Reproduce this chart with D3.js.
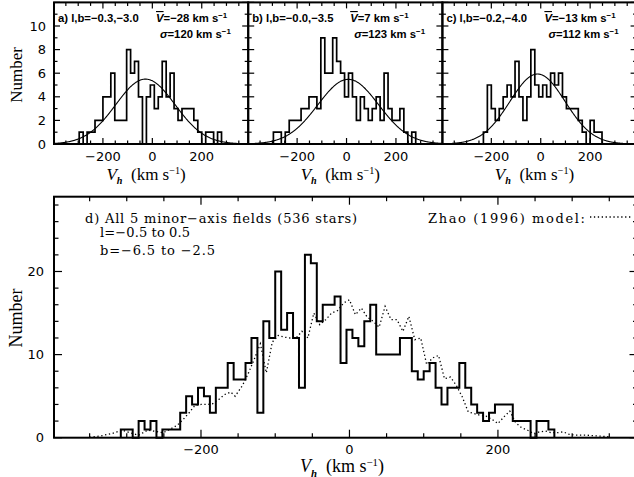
<!DOCTYPE html>
<html>
<head>
<meta charset="utf-8">
<script src="https://cdn.jsdelivr.net/npm/d3@7"></script>
<style>
body { margin: 0; background: #fff; }
svg text { fill: #000; }
</style>
</head>
<body>
<div id="chart"></div>
<script>
// bin widths in km/s
var topBin = 16;
var allBin = 8;

// the three single fields
var fieldNames = ["a) l,b=\u22120.3,\u22123.0", "b) l,b=\u22120.0,\u22123.5", "c) l,b=\u22120.2,\u22124.0"];
var fieldMean = [-28, 7, -13];
var fieldSigma = [120, 123, 112];
var fieldPeak = [5.5, 5.48, 5.93];

// centre of the first bin, then the counts
var fieldStart = [-288, -288, -224];
var countsA = [1, 0, 1, 1, 2, 2, 4, 4, 6, 2, 2, 2, 8, 6, 7, 4, 0, 4, 5, 3, 4, 7, 4, 6, 3, 2, 3, 3, 3, 2, 1, 0, 1, 1, 0, 1];
var countsB = [1, 1, 0, 1, 2, 2, 2, 3, 3, 4, 4, 3, 9, 6, 6, 9, 7, 6, 4, 6, 4, 2, 4, 3, 2, 3, 4, 2, 6, 3, 2, 2, 3, 1, 0, 1];
var countsC = [1, 5, 3, 2, 3, 4, 5, 4, 7, 4, 2, 4, 8, 5, 4, 5, 4, 6, 5, 6, 4, 3, 3, 3, 2, 1, 0, 2, 1, 1];

// all 5 minor-axis fields
var allStart = -304;
var countsAll = [1, 1, 0, 2, 1, 2, 0, 1, 1, 1, 3, 5, 4, 6, 5, 3, 6, 6, 9, 7, 7, 9, 12, 3,
    14, 12, 20, 13, 15, 12, 6, 22, 21, 14, 16, 16, 17, 9, 13, 12, 11, 14, 16, 10, 10, 10, 10,
    12, 12, 8, 7, 8, 9, 6, 4, 6, 6, 9, 6, 4, 3, 2, 3, 4, 4, 4, 2, 2, 2, 0, 2, 2, 1];

// Zhao (1996) model
var zhaoV = [-350, -336, -320, -306, -296, -284, -272, -264, -251, -240, -232, -224, -216, -208,
    -200, -192, -184, -176, -168, -160, -154, -144, -136, -128, -120, -112, -104, -96, -88, -80,
    -72, -64, -56, -48, -40, -32, -24, -16, -8, 0, 8, 16, 24, 32, 40, 48, 56, 64, 72, 80, 88, 96,
    104, 112, 120, 128, 136, 144, 152, 160, 168, 176, 184, 192, 200, 208, 216, 224, 232, 240, 248,
    256, 264, 272, 280, 288, 296, 304, 320, 336, 352];
var zhaoN = [0.05, 0.2, 0.5, 0.9, 0.6, 0.3, 0.9, 0.8, 0.6, 1.1, 1.5, 2.2, 3.0, 3.9,
    4.0, 4.0, 4.1, 4.6, 5.2, 5.5, 5.0, 6.3, 7.8, 9.5, 11.3, 7.8, 11.5, 12.3, 12.1, 12.0,
    12.0, 12.8, 12.0, 15.0, 13.6, 14.2, 15.0, 15.3, 16.2, 16.6, 14.8, 15.6, 14.5, 14.0, 13.3, 15.8, 14.2, 14.2, 12.8, 14.6, 11.8, 12.0,
    8.8, 9.6, 9.9, 7.1, 7.3, 6.3, 4.9, 3.1, 2.9, 2.7, 2.6, 2.2, 1.7, 2.5, 3.2, 1.8, 1.2, 0.9, 0.5,
    0.7, 0.8, 0.6, 0.6, 0.7, 0.4, 0.3, 0.3, 0.2, 0.1];

// ticks
var xMajor = [-200, 0, 200];
var xMinor = d3.range(-350, 351, 50);
var topYMinor = d3.range(0, 13, 1);
var topYLabels = [0, 2, 4, 6, 8, 10];
var allYMinor = d3.range(0, 29, 2);
var allYLabels = [0, 10, 20];

var svgWidth = 634;
var svgHeight = 477;

var svg = d3.select("#chart")
    .append("svg")
    .attr("width", svgWidth)
    .attr("height", svgHeight)
    .style("font-family", "'Liberation Serif', serif");

var tickFont = "'DejaVu Sans', sans-serif";
var noteFont = "'Liberation Sans', sans-serif";
var serifFont = "'DejaVu Serif', serif";

// draw frame and inward ticks of one panel
function drawFrame(x, y, yMinor, yMajor, tickLen) {
    var x0 = x.range()[0], x1 = x.range()[1];
    var y0 = y.range()[0], y1 = y.range()[1];
    var g = svg.append("g")
        .attr("stroke", "#000")
        .attr("fill", "none");

    xMinor.forEach(function (v) {
        var len = xMajor.indexOf(v) >= 0 ? tickLen[0] : tickLen[1];
        g.append("line").attr("x1", x(v)).attr("x2", x(v))
            .attr("y1", y0).attr("y2", y0 - len).attr("stroke-width", 1.2);
        g.append("line").attr("x1", x(v)).attr("x2", x(v))
            .attr("y1", y1).attr("y2", y1 + len).attr("stroke-width", 1.2);
    });
    yMinor.forEach(function (v) {
        var len = yMajor(v) ? tickLen[0] : tickLen[1];
        g.append("line").attr("x1", x0).attr("x2", x0 + len)
            .attr("y1", y(v)).attr("y2", y(v)).attr("stroke-width", 1.2);
        g.append("line").attr("x1", x1).attr("x2", x1 - len)
            .attr("y1", y(v)).attr("y2", y(v)).attr("stroke-width", 1.2);
    });
    g.append("rect")
        .attr("x", x0).attr("y", y1)
        .attr("width", x1 - x0).attr("height", y0 - y1)
        .attr("stroke-width", 2);
}

function histPath(x, y, start, counts, bw) {
    var pts = [[start - bw / 2, 0]];
    counts.forEach(function (c, i) {
        var left = start + i * bw - bw / 2;
        pts.push([left, c], [left + bw, c]);
    });
    pts.push([start + counts.length * bw - bw / 2, 0]);
    return d3.line().x(d => x(d[0])).y(d => y(d[1]))(pts);
}

function xTitle(cx, cy, size) {
    var t = svg.append("text")
        .attr("x", cx).attr("y", cy)
        .attr("text-anchor", "middle")
        .style("font-size", size + "px");
    t.append("tspan").style("font-style", "italic").text("V");
    t.append("tspan").attr("dy", size * 0.25).style("font-size", (size * 0.6) + "px")
        .style("font-style", "italic").style("font-weight", "bold").text("h");
    t.append("tspan").attr("dy", -size * 0.25).text("\u2002(km s");
    t.append("tspan").attr("dy", -size * 0.35).style("font-size", (size * 0.6) + "px").text("\u22121");
    t.append("tspan").attr("dy", size * 0.35).text(")");
}

function unitText(t, size) {
    t.append("tspan").text(" km s");
    t.append("tspan").attr("dy", -size * 0.35).style("font-size", (size * 0.7) + "px").text("\u22121");
}

// ---------- top row ----------
var topLeft = 54, panelW = 194.2;
var topY = d3.scaleLinear().domain([0, 12]).range([144, 2.4]);
var fieldCounts = [countsA, countsB, countsC];

fieldCounts.forEach(function (counts, i) {
    var left = topLeft + i * panelW;
    var x = d3.scaleLinear().domain([-398, 388]).range([left, left + panelW]);

    svg.append("path")
        .attr("d", histPath(x, topY, fieldStart[i], counts, topBin))
        .attr("fill", "none")
        .attr("stroke", "#000")
        .attr("stroke-width", 1.7);

    var gauss = d3.range(-398, 389, 2).map(v =>
        [v, fieldPeak[i] * Math.exp(-0.5 * Math.pow((v - fieldMean[i]) / fieldSigma[i], 2))]);
    svg.append("path")
        .attr("d", d3.line().x(d => x(d[0])).y(d => topY(d[1]))(gauss))
        .attr("fill", "none")
        .attr("stroke", "#000")
        .attr("stroke-width", 1.1);

    drawFrame(x, topY, topYMinor, v => v % 2 === 0, [6, 3.5]);

    xMajor.forEach(function (v) {
        svg.append("text")
            .attr("x", x(v)).attr("y", 161)
            .attr("text-anchor", "middle")
            .style("font-family", tickFont)
            .style("font-size", "13px")
            .text(v < 0 ? "\u2212" + Math.abs(v) : v);
    });
    xTitle(left + panelW / 2 - 5, 180, 17);

    var note = svg.append("g")
        .style("font-family", noteFont)
        .style("font-weight", "bold")
        .style("font-size", "11.3px");
    note.append("text").attr("x", left + 4).attr("y", 22).text(fieldNames[i]);
    var vt = note.append("text").attr("x", left + 102).attr("y", 22);
    vt.append("tspan").style("font-style", "italic").style("text-decoration", "overline").text("V");
    vt.append("tspan").text("=" + (fieldMean[i] < 0 ? "\u2212" + Math.abs(fieldMean[i]) : fieldMean[i]));
    unitText(vt, 11.3);
    var st = note.append("text").attr("x", left + 106).attr("y", 38);
    st.append("tspan").style("font-style", "italic").text("\u03c3");
    st.append("tspan").text("=" + fieldSigma[i]);
    unitText(st, 11.3);
});

topYLabels.forEach(function (v) {
    svg.append("text")
        .attr("x", 46).attr("y", topY(v) + 4.5)
        .attr("text-anchor", "end")
        .style("font-family", tickFont)
        .style("font-size", "13px")
        .text(v);
});
svg.append("text")
    .attr("transform", "translate(22,75) rotate(-90)")
    .attr("text-anchor", "middle")
    .style("font-size", "17px")
    .text("Number");

// ---------- bottom panel ----------
var allX = d3.scaleLinear().domain([-398, 388]).range([54, 637.5]);
var allY = d3.scaleLinear().domain([0, 29]).range([437.7, 196.7]);

svg.append("defs").append("clipPath").attr("id", "clipAll")
    .append("rect").attr("x", 54).attr("y", 196.7).attr("width", 583.5).attr("height", 241);

svg.append("path")
    .attr("d", d3.line().x((d, i) => allX(zhaoV[i])).y(d => allY(d))(zhaoN))
    .attr("clip-path", "url(#clipAll)")
    .attr("fill", "none")
    .attr("stroke", "#000")
    .attr("stroke-width", 1.3)
    .attr("stroke-dasharray", "1.3,2.6");

svg.append("path")
    .attr("d", histPath(allX, allY, allStart, countsAll, allBin))
    .attr("fill", "none")
    .attr("stroke", "#000")
    .attr("stroke-width", 2);

drawFrame(allX, allY, allYMinor, v => v % 10 === 0, [8, 4.5]);

xMajor.forEach(function (v) {
    svg.append("text")
        .attr("x", allX(v)).attr("y", 454)
        .attr("text-anchor", "middle")
        .style("font-family", tickFont)
        .style("font-size", "13px")
        .text(v < 0 ? "\u2212" + Math.abs(v) : v);
});
allYLabels.forEach(function (v) {
    svg.append("text")
        .attr("x", 44).attr("y", allY(v) + 4.5)
        .attr("text-anchor", "end")
        .style("font-family", tickFont)
        .style("font-size", "13px")
        .text(v);
});
svg.append("text")
    .attr("transform", "translate(22,318) rotate(-90)")
    .attr("text-anchor", "middle")
    .style("font-size", "18px")
    .text("Number");
xTitle(342, 472, 18);

var dNote = svg.append("g")
    .style("font-family", serifFont)
    .style("font-size", "13px");
dNote.append("text").attr("x", 85).attr("y", 223)
    .attr("textLength", 272).attr("lengthAdjust", "spacing")
    .text("d) All 5 minor\u2212axis fields (536 stars)");
dNote.append("text").attr("x", 100).attr("y", 237)
    .attr("textLength", 90).attr("lengthAdjust", "spacing")
    .text("l=\u22120.5 to 0.5");
dNote.append("text").attr("x", 100).attr("y", 255)
    .attr("textLength", 115).attr("lengthAdjust", "spacing")
    .text("b=\u22126.5 to \u22122.5");
dNote.append("text").attr("x", 428).attr("y", 223)
    .attr("textLength", 157).attr("lengthAdjust", "spacing")
    .text("Zhao (1996) model:");
svg.append("line")
    .attr("x1", 590).attr("x2", 632)
    .attr("y1", 217).attr("y2", 217)
    .attr("stroke", "#000")
    .attr("stroke-width", 1.3)
    .attr("stroke-dasharray", "1.3,2.6");
</script>
</body>
</html>
